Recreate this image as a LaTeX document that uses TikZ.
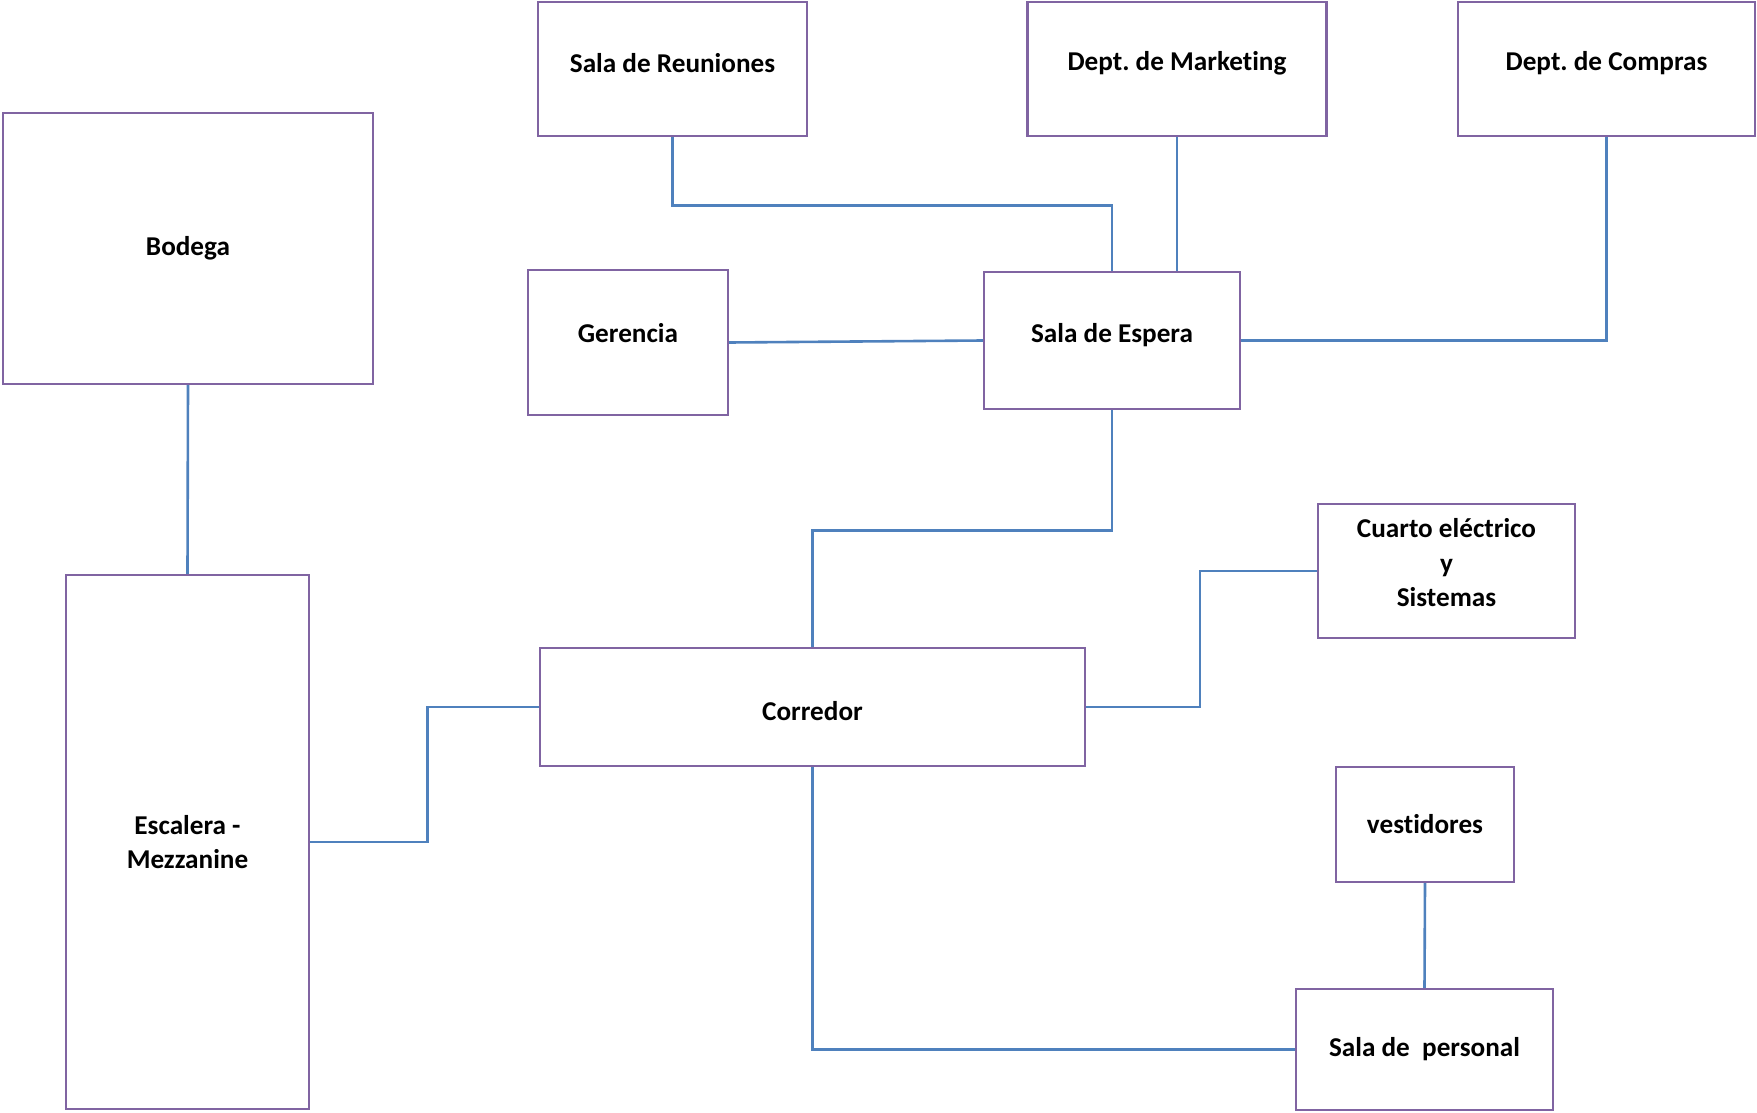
\documentclass[tikz,border=0pt]{standalone}
\usepackage{fontspec}
\setmainfont{Carlito}[Ligatures=NoCommon]
\usetikzlibrary{positioning}

\definecolor{roomline}{HTML}{8064A2}
\definecolor{linkline}{HTML}{4F81BD}
\newcommand{\Lift}[2]{\raisebox{#1}[\height][\depth]{#2}}
\frenchspacing

\begin{document}
\begin{tikzpicture}[x=0.5pt, y=-0.5pt]
		\tikzstyle{Room} 	= [rectangle, draw=roomline, line width=1.2pt, fill=white, inner sep=0pt, align=center, font=\fontsize{13.6}{17}\selectfont\bfseries]
		\tikzstyle{Link}	= [draw=linkline, line width=1.3pt]

		\useasboundingbox (0,0) rectangle (1757,1113);

		\node (reun) at (672.5, 69) [Room, minimum width=134.5pt, minimum height=67pt] {\Lift{3pt}{Sala de Reuniones}};
		\node (mkt) at (1177, 69) [Room, minimum width=149.5pt, minimum height=67pt] {\Lift{3pt}{Dept. de Marketing}};
		\node (compras) at (1606.5, 69) [Room, minimum width=148.5pt, minimum height=67pt] {\Lift{3pt}{Dept. de Compras}};
		\node (bodega) at (188, 248.5) [Room, minimum width=185pt, minimum height=135.5pt] {Bodega};
		\node (ger) at (628, 342.5) [Room, minimum width=100pt, minimum height=72.5pt] {\Lift{4.5pt}{Gerencia}};
		\node (espera) at (1112, 340.5) [Room, minimum width=128pt, minimum height=68.5pt] {\Lift{2.5pt}{Sala de Espera}};
		\node (cuarto) at (1446.5, 571) [Room, minimum width=128.5pt, minimum height=67pt] {\Lift{3pt}{\begin{tabular}{@{}c@{}}Cuarto eléctrico\\[0.5pt]y\\Sistemas\end{tabular}}};
		\node (esc) at (187.5, 842) [Room, minimum width=121.5pt, minimum height=267pt] {Escalera -\\Mezzanine};
		\node (corr) at (812.5, 707) [Room, minimum width=272.5pt, minimum height=59pt] {\Lift{-2pt}{Corredor}};
		\node (vest) at (1425, 824.5) [Room, minimum width=89pt, minimum height=57.5pt] {vestidores};
		\node (pers) at (1424.5, 1049.5) [Room, minimum width=128.5pt, minimum height=60.5pt] {Sala de\ \ personal};

		\draw [-] (reun.south) -- ++(0,68) -| (espera.north) [Link];
		\draw [-] (mkt.south) -- (mkt.south |- espera.north) [Link];
		\draw [-] (compras.south) |- (espera.east) [Link];
		\draw [-] (ger.east) -- (espera.west) [Link];
		\draw [-] (bodega.south) -- (esc.north) [Link];
		\draw [-] (espera.south) -- ++(0,120) -| (corr.north) [Link];
		\draw [-] (cuarto.west) -- ++(-117,0) |- (corr.east) [Link];
		\draw [-] (esc.east) -- ++(117,0) |- (corr.west) [Link];
		\draw [-] (corr.south) |- (pers.west) [Link];
		\draw [-] (vest.south) -- (pers.north) [Link];
	\end{tikzpicture}
\end{document}
